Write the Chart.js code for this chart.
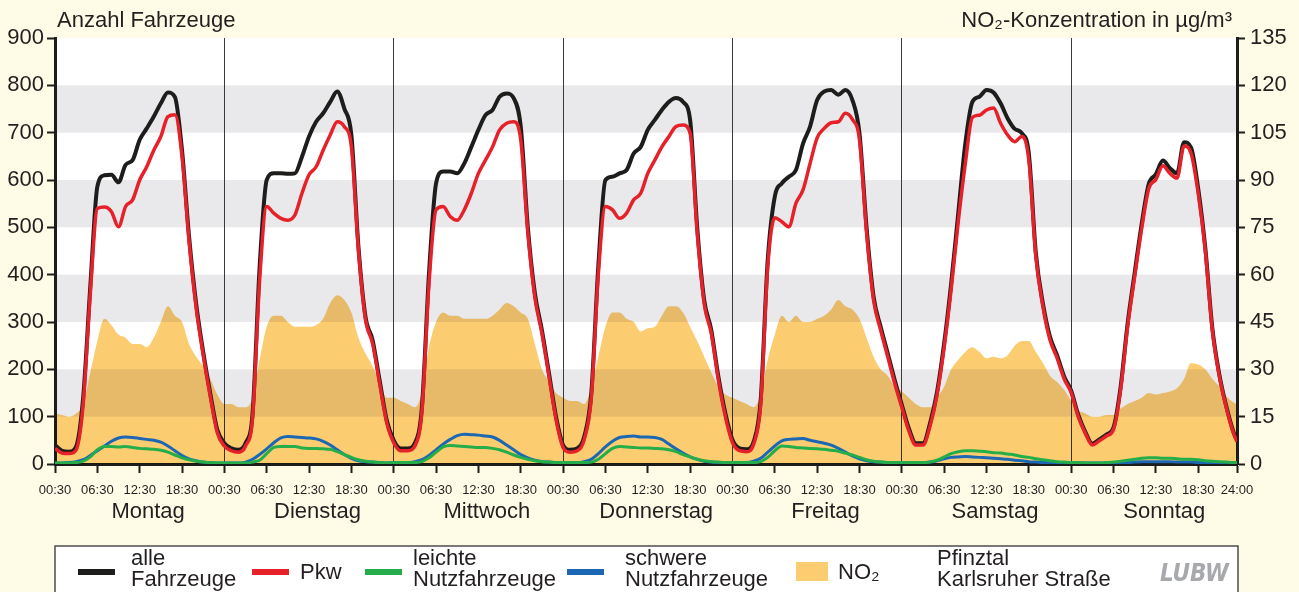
<!DOCTYPE html>
<html lang="de">
<head>
<meta charset="utf-8">
<title>Verkehr und NO2 – Pfinztal Karlsruher Straße</title>
<script src="https://cdn.jsdelivr.net/npm/chart.js@4.4.1/dist/chart.umd.min.js"></script>
<style>
	html, body { margin: 0; padding: 0; background: #fefbe6; }
	#wrap { width: 1299px; height: 592px; }
</style>
</head>
<body>
<div id="wrap"><canvas id="myChart" width="1299" height="592"></canvas></div>
<script>
const tage = ['Montag', 'Dienstag', 'Mittwoch', 'Donnerstag', 'Freitag', 'Samstag', 'Sonntag']
const uhrzeiten = ['00:30', '06:30', '12:30', '18:30']
const endeLabel = '24:00'

// Stundenwerte (xx:30) je Wochentag, letzter Wert = Sonntag 24:00
const alleFahrzeuge = [
	40, 28, 26, 37, 142, 375, 586, 610, 611, 595, 632, 642, 685, 709, 734, 762, 785, 775, 663, 480, 339, 237, 149, 72,
	44, 33, 30, 44, 107, 417, 600, 614, 614, 613, 614, 649, 692, 723, 741, 765, 787, 751, 695, 459, 311, 262, 177, 93,
	50, 33, 33, 44, 121, 403, 593, 618, 618, 614, 635, 670, 706, 737, 748, 776, 783, 773, 713, 501, 361, 283, 192, 100,
	40, 30, 33, 58, 150, 420, 600, 607, 614, 621, 656, 670, 706, 727, 748, 765, 773, 765, 727, 501, 346, 283, 185, 107,
	51, 33, 31, 47, 135, 431, 565, 593, 607, 621, 677, 713, 769, 787, 790, 780, 790, 769, 699, 501, 354, 290, 234, 177,
	125, 75, 44, 44, 86, 153, 255, 382, 530, 677, 765, 776, 790, 785, 762, 730, 708, 699, 656, 445, 339, 269, 230, 185,
	155, 104, 68, 43, 52, 62, 77, 162, 297, 404, 508, 592, 612, 641, 625, 614, 680, 668, 582, 458, 288, 189, 121, 68,
	50
]
const pkw = [
	33, 23, 22, 30, 128, 360, 540, 543, 533, 501, 544, 558, 600, 628, 663, 692, 734, 738, 650, 470, 330, 230, 143, 66,
	38, 28, 25, 38, 98, 389, 544, 530, 519, 515, 526, 572, 611, 628, 663, 695, 723, 713, 670, 452, 305, 255, 170, 88,
	45, 28, 28, 38, 112, 382, 537, 544, 523, 515, 537, 572, 614, 642, 670, 706, 720, 723, 685, 490, 352, 276, 185, 94,
	35, 25, 28, 52, 140, 403, 544, 537, 519, 530, 558, 572, 614, 642, 670, 692, 713, 716, 699, 490, 338, 276, 178, 100,
	45, 28, 26, 42, 125, 417, 520, 512, 501, 551, 579, 635, 689, 709, 721, 723, 741, 728, 685, 490, 346, 283, 227, 170,
	120, 70, 40, 40, 80, 146, 246, 370, 512, 635, 732, 737, 748, 752, 720, 695, 681, 692, 642, 437, 332, 262, 224, 180,
	151, 100, 65, 40, 49, 59, 73, 156, 290, 396, 498, 582, 601, 630, 614, 604, 672, 656, 572, 452, 283, 185, 118, 65,
	47
]
const leichteNfz = [
	2, 2, 2, 3, 6, 15, 30, 37, 37, 36, 37, 35, 33, 32, 31, 29, 25, 19, 13, 9, 6, 4, 3, 2,
	2, 2, 2, 2, 4, 8, 22, 35, 37, 37, 37, 34, 33, 33, 32, 31, 26, 20, 14, 9, 6, 4, 3, 2,
	3, 3, 3, 3, 5, 13, 25, 36, 39, 38, 37, 36, 35, 35, 33, 30, 25, 19, 14, 10, 7, 5, 4, 3,
	3, 3, 3, 3, 4, 10, 22, 33, 37, 36, 35, 34, 34, 33, 32, 30, 26, 20, 15, 10, 7, 5, 4, 3,
	3, 3, 3, 3, 5, 14, 28, 38, 37, 35, 34, 33, 32, 31, 29, 27, 23, 19, 14, 9, 6, 4, 3, 3,
	3, 3, 3, 3, 4, 8, 15, 22, 26, 28, 28, 27, 26, 24, 23, 21, 19, 16, 14, 11, 9, 7, 5, 4,
	3, 3, 2, 2, 2, 3, 4, 6, 8, 10, 12, 13, 13, 12, 12, 11, 10, 10, 9, 7, 6, 5, 4, 3,
	3
]
const schwereNfz = [
	2, 2, 3, 5, 9, 18, 28, 38, 48, 55, 57, 56, 54, 52, 50, 46, 38, 28, 18, 11, 7, 4, 3, 2,
	2, 2, 2, 4, 10, 20, 32, 45, 55, 58, 57, 56, 55, 53, 48, 40, 30, 20, 12, 7, 5, 4, 3, 2,
	3, 3, 3, 5, 9, 18, 30, 42, 52, 60, 63, 62, 61, 59, 57, 50, 40, 30, 20, 13, 8, 5, 4, 3,
	3, 3, 3, 5, 10, 22, 36, 48, 56, 58, 59, 57, 57, 56, 52, 42, 32, 23, 15, 10, 6, 4, 3, 3,
	3, 3, 3, 6, 12, 25, 38, 49, 52, 53, 54, 50, 47, 44, 40, 33, 25, 17, 11, 7, 5, 4, 3, 3,
	3, 2, 2, 3, 4, 7, 11, 14, 15, 16, 15, 14, 13, 12, 11, 10, 8, 7, 5, 4, 3, 3, 2, 2,
	2, 2, 2, 2, 2, 2, 2, 3, 3, 4, 5, 5, 5, 5, 5, 4, 4, 4, 3, 3, 3, 2, 2, 2,
	2
]
// NO2 in µg/m³
const no2 = [
	16, 15.5, 15, 16, 19, 29, 39, 46, 44, 41, 40, 38, 38, 37, 40, 45, 50, 47, 45, 38, 34, 31, 27, 22,
	19, 19, 18, 18, 21, 33, 43.5, 47, 47, 45, 43.5, 43.5, 43.5, 44, 46, 51, 53.5, 52, 48, 40, 35, 31, 26, 21,
	21, 20, 19, 18, 23, 37, 45, 48, 47, 47, 46, 46, 46, 46, 47, 49, 51, 50, 48, 46, 38, 30, 26, 22.5,
	21, 20, 20, 19, 24.5, 34, 43.5, 48, 48, 46, 45, 42, 43, 43.5, 47, 50, 50, 48, 43.5, 39, 34, 29, 24.5, 22,
	21, 20, 19, 18, 22, 33, 41, 47, 45, 47, 45, 45, 46, 47, 49, 52, 50, 49, 46, 40, 34, 30, 28, 24.5,
	23, 21, 19, 18, 18, 21, 24.5, 30, 33, 35.5, 37, 35.5, 33.5, 34, 33.5, 34.5, 37.5, 39, 39, 35.5, 32, 28, 26, 23.5,
	20, 17, 16, 15, 15, 15.5, 15.5, 17.5, 19, 20, 21, 22.5, 22, 22.5, 23, 24, 27, 32, 31.5, 30, 27, 24.5, 21.5, 19.5,
	19
]

const schrift = "'Liberation Sans', Arial, sans-serif"
const schmal = "'Liberation Sans Narrow', 'DejaVu Sans Condensed', sans-serif"
const textFarbe = '#231f20'

function zeitInStunden(t){
	const [h, m] = t.split(':').map(Number)
	return h + m / 60
}

const start = zeitInStunden(uhrzeiten[0])
const ende = (tage.length - 1) * 24 + zeitInStunden(endeLabel)
const tickWerte = []
tage.forEach((tag, d) => uhrzeiten.forEach(u => tickWerte.push(d * 24 + zeitInStunden(u))))
tickWerte.push(ende)

function punkte(werte){
	return werte.map((v, i) => ({x: Math.min(i + start, ende), y: v}))
}

// NO2-Fläche multiplikativ über die Bänder legen
const mischen = {
	id: 'mischen',
	beforeDraw(chart){
		const {ctx, chartArea: a, scales: {y}} = chart
		ctx.save()
		ctx.fillStyle = '#ffffff'
		ctx.fillRect(a.left, a.top, a.right - a.left, a.bottom - a.top)
		ctx.fillStyle = '#e9e9ec'
		for (let v = 100; v < 900; v += 200) {
			const y1 = y.getPixelForValue(v + 100)
			const y0 = y.getPixelForValue(v)
			ctx.fillRect(a.left, y1, a.right - a.left, y0 - y1)
		}
		ctx.restore()
	},
	beforeDatasetsDraw(chart){
		chart.ctx.globalCompositeOperation = 'multiply'
	},
	beforeDatasetDraw(chart, args){
		if (args.meta.yAxisID !== 'y2') chart.ctx.globalCompositeOperation = 'source-over'
	},
	afterDatasetsDraw(chart){
		chart.ctx.globalCompositeOperation = 'source-over'
	}
}

const beschriftung = {
	id: 'beschriftung',
	afterDraw(chart){
		const {ctx, chartArea: a, scales: {x}} = chart
		const ds = chart.data.datasets
		ctx.save()
		ctx.fillStyle = textFarbe
		ctx.font = '22px ' + schrift
		ctx.textBaseline = 'alphabetic'
		ctx.textAlign = 'left'
		ctx.fillText('Anzahl Fahrzeuge', a.left + 2, 27)
		ctx.textAlign = 'right'
		ctx.fillText('NO₂-Konzentration in µg/m³', a.right - 5, 27)

		ctx.textAlign = 'center'
		ctx.font = '22px ' + schrift
		tage.forEach((tag, d) => ctx.fillText(tag, x.getPixelForValue(d * 24 + 13.7), 518))

		// Legende
		const top = 546
		ctx.fillStyle = '#ffffff'
		ctx.fillRect(a.left, top, a.right - a.left + 1, 60)
		ctx.strokeStyle = '#4d4d4f'
		ctx.lineWidth = 1.5
		ctx.strokeRect(a.left, top, a.right - a.left + 1, 60)

		const eintraege = [
			{ds: ds[0], lx: 78, tx: 131},
			{ds: ds[1], lx: 252, tx: 300},
			{ds: ds[2], lx: 365, tx: 413},
			{ds: ds[3], lx: 567, tx: 625},
			{ds: ds[4], lx: 796, tx: 838}
		]
		ctx.textAlign = 'left'
		ctx.font = '22px ' + schrift
		eintraege.forEach(e => {
			if (e.ds.fill) {
				ctx.fillStyle = e.ds.backgroundColor
				ctx.fillRect(e.lx, 562, 32, 19)
			} else {
				ctx.strokeStyle = e.ds.borderColor
				ctx.lineWidth = 6
				ctx.beginPath()
				ctx.moveTo(e.lx, 572)
				ctx.lineTo(e.lx + 37, 572)
				ctx.stroke()
			}
			ctx.fillStyle = textFarbe
			const zeilen = [].concat(e.ds.label)
			if (zeilen.length > 1) {
				ctx.fillText(zeilen[0], e.tx, 565)
				ctx.fillText(zeilen[1], e.tx, 586)
			} else {
				ctx.fillText(zeilen[0], e.tx, 579)
			}
		})
		ctx.fillText('Pfinztal', 937, 565)
		ctx.fillText('Karlsruher Straße', 937, 586)
		ctx.fillStyle = '#a7a9ac'
		ctx.font = "italic bold 24px " + schmal
		ctx.fillText('LUBW', 1160, 581)
		ctx.restore()
	}
}

function loadHandler(){
	const context = document.getElementById('myChart')
	const linie = (label, werte, farbe, breite, ordnung) => ({
		label: label,
		data: punkte(werte),
		borderColor: farbe,
		backgroundColor: farbe,
		borderWidth: breite,
		pointRadius: 0,
		fill: false,
		cubicInterpolationMode: 'monotone',
		order: ordnung,
		yAxisID: 'y'
	})
	const items = {
		datasets: [
			linie(['alle', 'Fahrzeuge'], alleFahrzeuge, '#1d1d1b', 4, 1),
			linie('Pkw', pkw, '#e62129', 3.5, 0),
			linie(['leichte', 'Nutzfahrzeuge'], leichteNfz, '#25ad4a', 3, 2),
			linie(['schwere', 'Nutzfahrzeuge'], schwereNfz, '#1b67b3', 3, 3),
			{
				label: 'NO₂',
				data: punkte(no2),
				borderWidth: 0,
				borderColor: '#fccc70',
				backgroundColor: '#fccc70',
				pointRadius: 0,
				fill: 'origin',
				cubicInterpolationMode: 'monotone',
				order: 4,
				yAxisID: 'y2'
			}
		]
	}
	const achse = {
		grid: {drawOnChartArea: false, tickLength: 8, tickWidth: 2, tickColor: '#1d1d1b'},
		border: {color: '#1d1d1b', width: 3}
	}
	const config = {
		type: 'line',
		data: items,
		options: {
			responsive: false,
			animation: false,
			events: [],
			layout: {padding: {top: 38, left: 0, right: 0, bottom: 0}},
			plugins: {legend: {display: false}, tooltip: {enabled: false}},
			scales: {
				x: {
					type: 'linear',
					min: start,
					max: ende,
					afterBuildTicks: s => { s.ticks = tickWerte.map(v => ({value: v})) },
					afterFit: s => { s.height = 128 },
					ticks: {
						autoSkip: false,
						maxRotation: 0,
						padding: 10,
						color: textFarbe,
						font: {family: schrift, size: 13},
						callback: (v, i) => i < tickWerte.length - 1 ? uhrzeiten[i % uhrzeiten.length] : endeLabel
					},
					grid: {
						color: c => (c.tick && c.tick.value % 24 === start && c.tick.value > start) ? '#3a3a3a' : 'rgba(0,0,0,0)',
						lineWidth: 1,
						tickColor: '#1d1d1b',
						tickLength: 9,
						tickWidth: 2
					},
					border: {color: '#1d1d1b', width: 3}
				},
				y: {
					position: 'left',
					min: 0,
					max: 900,
					afterFit: s => { s.width = 55 },
					ticks: {stepSize: 100, padding: 3, color: textFarbe, font: {family: schrift, size: 22}},
					...achse
				},
				y2: {
					position: 'right',
					min: 0,
					max: 135,
					afterFit: s => { s.width = 62 },
					ticks: {stepSize: 15, padding: 5, color: textFarbe, font: {family: schrift, size: 22}},
					...achse
				}
			}
		},
		plugins: [mischen, beschriftung]
	}
	const myChart = new Chart(context, config)
}

loadHandler()
</script>
</body>
</html>
